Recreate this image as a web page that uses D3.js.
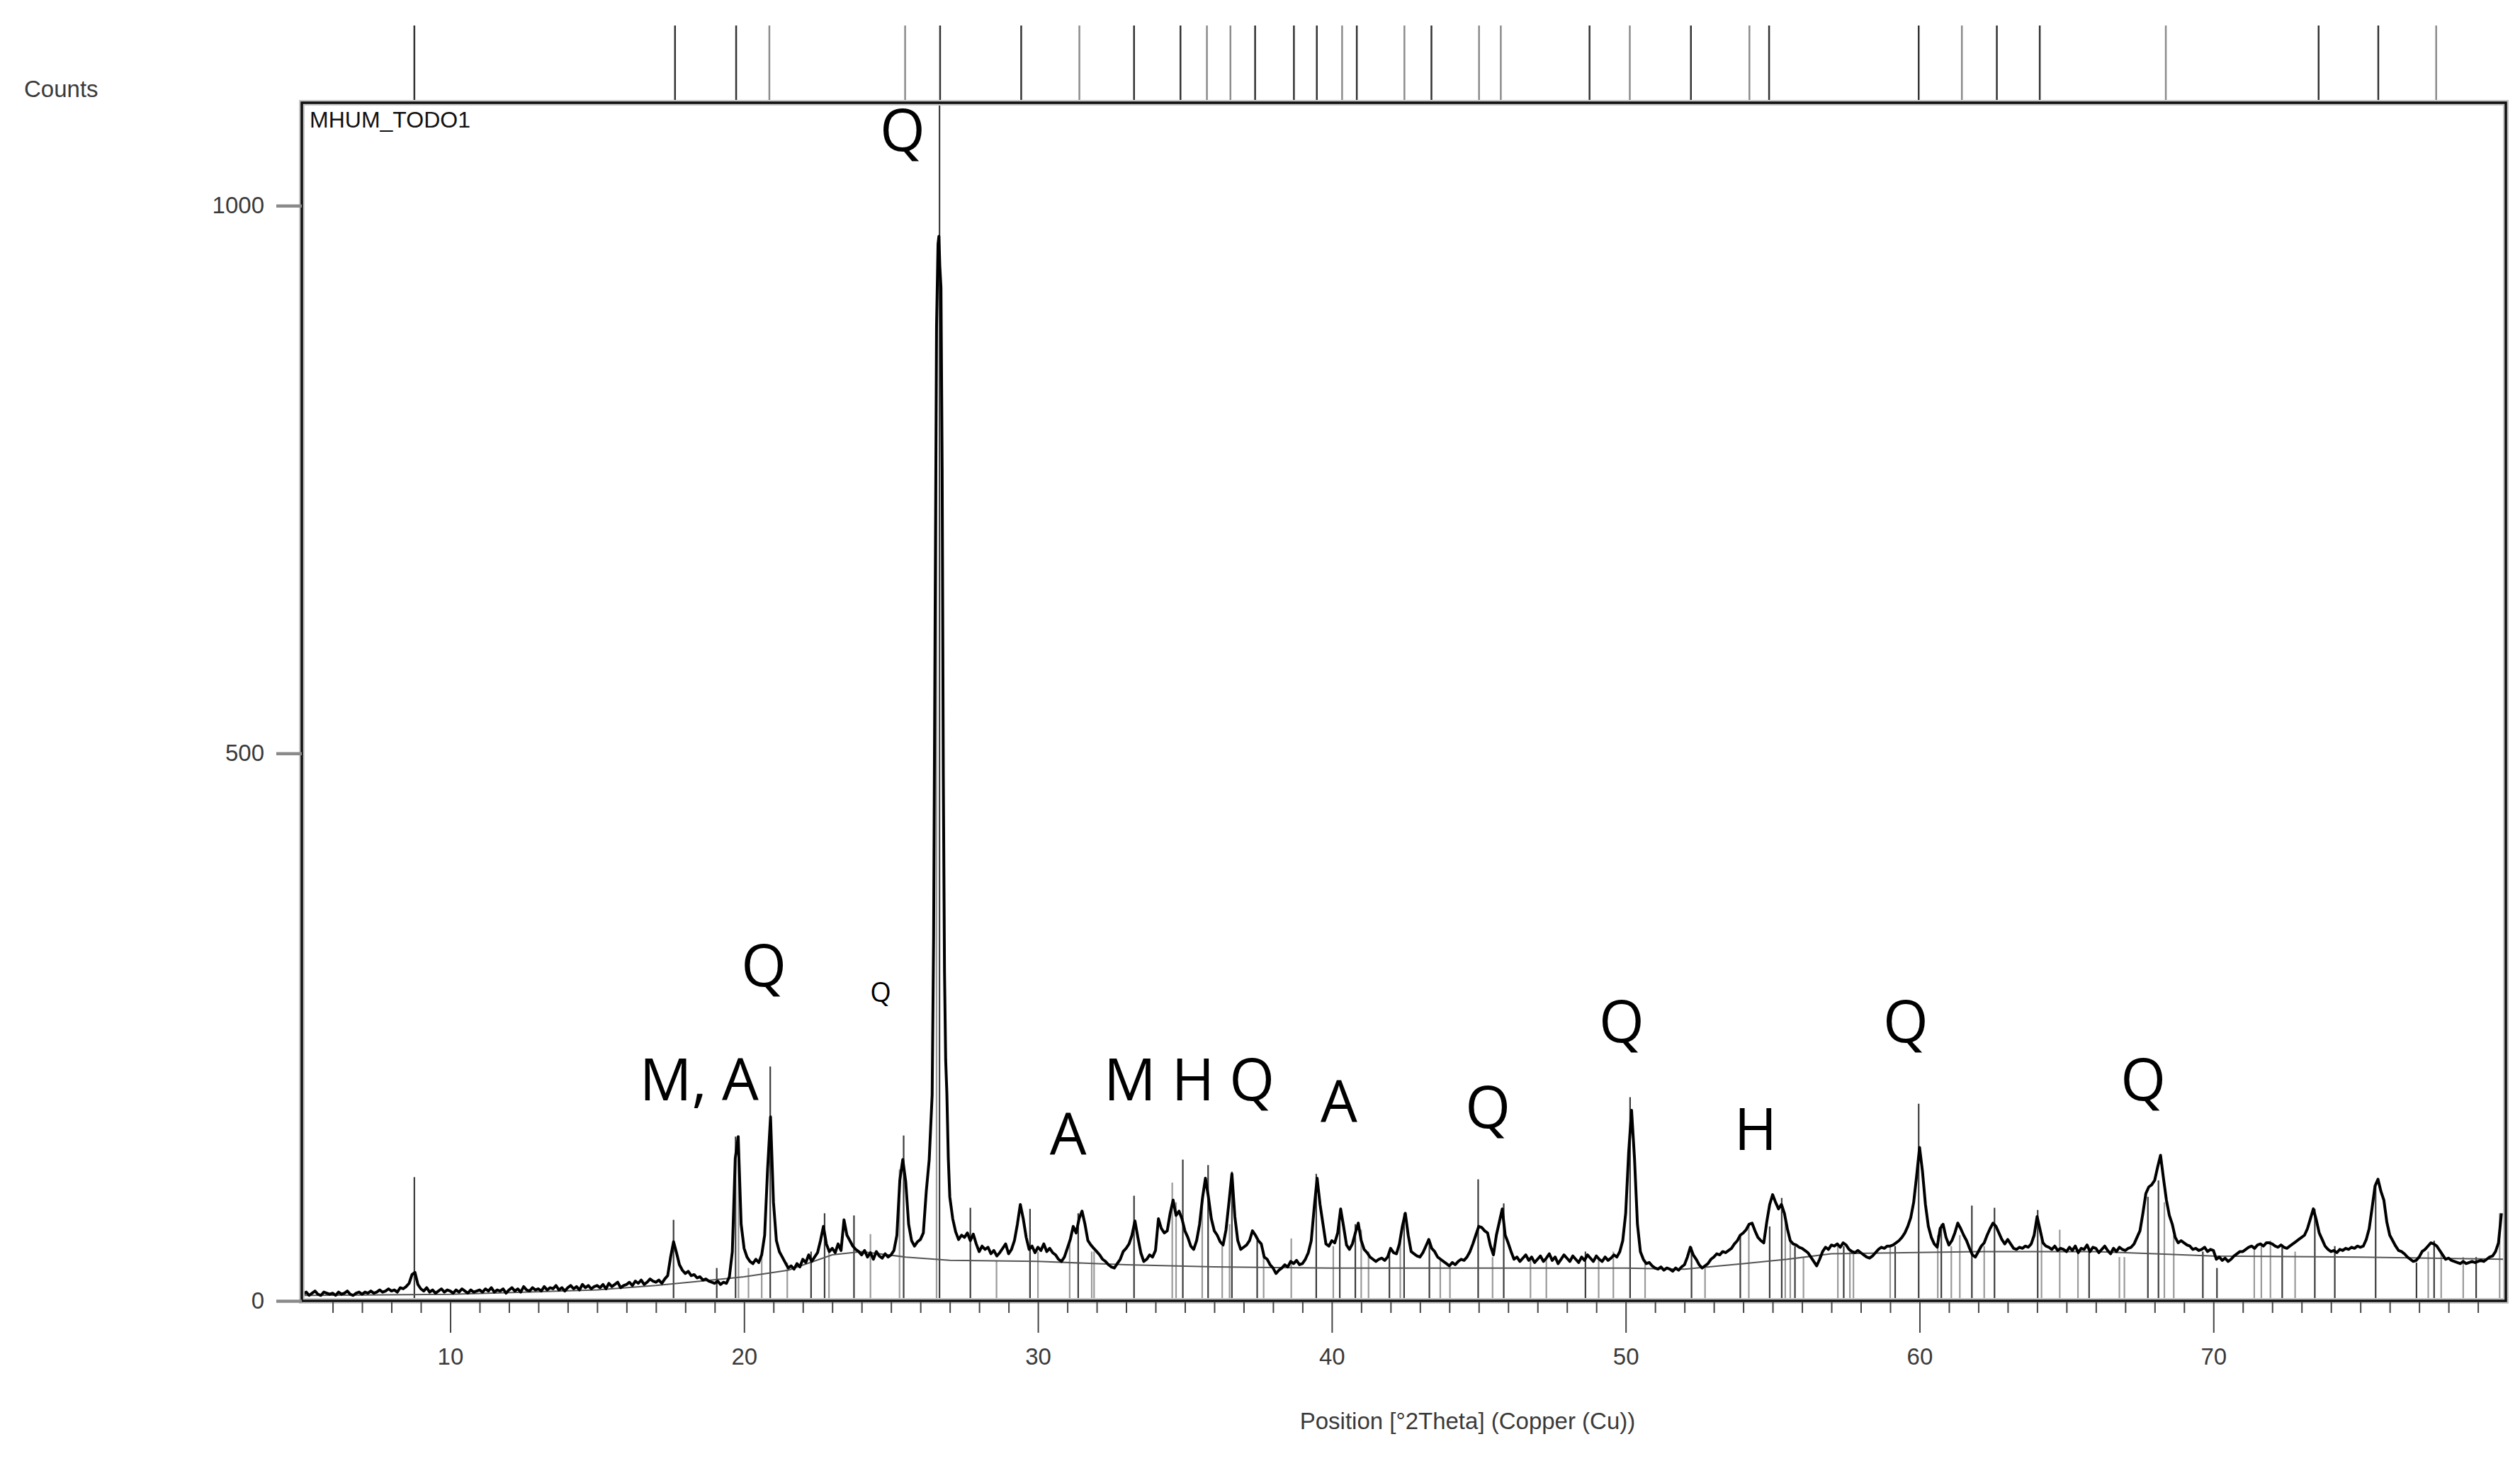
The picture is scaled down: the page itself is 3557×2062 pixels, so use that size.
<!DOCTYPE html>
<html>
<head>
<meta charset="utf-8">
<script src="https://cdnjs.cloudflare.com/ajax/libs/d3/7.8.5/d3.min.js"></script>
<style>
  body { margin: 0; background: #fff; }
  svg { display: block; }
  .axis-text { font-family: "Liberation Sans", Arial, sans-serif; font-size: 33px; fill: #3a3a3a; }
  .phase { font-family: "Open Sans", "Noto Sans", sans-serif; fill: #000; }
</style>
</head>
<body>
<div id="chart"></div>
<script>
const SVG_WIDTH = 3557;
const SVG_HEIGHT = 2062;
const PLOT = { left: 426, right: 3537, top: 145, bottom: 1836 };

// scan: 5.0 .. 79.8 deg 2theta, step 0.1
const THETA_START = 5.0;
const THETA_STEP = 0.1;
const counts = [
  6,8,5,7,9,6,5,8,7,6,
  7,5,8,6,7,9,6,5,7,8,
  6,8,7,9,7,8,10,8,9,11,
  9,10,8,12,11,13,16,24,26,15,
  11,9,12,8,10,7,9,11,8,10,
  9,7,10,8,11,9,7,10,8,9,
  10,8,11,9,12,8,10,9,11,7,
  10,12,9,11,8,13,10,9,12,10,
  11,9,13,10,12,11,14,10,12,9,
  12,14,11,13,10,15,12,14,11,13,
  14,12,15,11,16,13,15,17,12,14,
  15,17,14,18,16,19,15,17,20,18,
  17,19,16,20,23,40,54,44,33,28,
  25,27,23,24,21,22,19,20,18,17,
  16,18,15,17,16,22,45,130,150,70,
  48,40,36,34,38,35,42,60,120,168,
  90,55,45,40,35,30,32,29,34,31,
  38,35,42,36,40,44,55,68,52,45,
  48,44,52,46,74,60,55,50,47,45,
  42,46,40,44,38,45,41,39,43,40,
  42,46,60,110,129,109,70,55,50,54,
  56,62,100,129,188,620,965,925,300,190,
  95,75,63,56,60,58,62,55,61,52,
  45,50,47,49,43,46,41,44,48,52,
  43,47,55,70,88,75,58,47,50,44,
  49,46,52,45,48,44,42,38,36,40,
  48,56,68,62,75,82,70,55,51,48,
  45,42,38,36,33,31,30,34,38,45,
  48,52,60,73,58,44,36,38,42,40,
  46,75,66,62,64,80,92,78,82,75,
  64,58,50,47,55,70,94,112,95,75,
  64,60,54,51,65,90,116,77,55,47,
  49,51,55,64,60,55,52,40,38,33,
  30,25,28,30,33,31,36,34,37,33,
  34,38,44,55,85,112,88,70,52,50,
  55,53,62,84,68,51,47,52,62,71,
  55,47,44,40,38,36,38,39,37,40,
  48,44,43,52,68,80,60,45,43,41,
  40,44,50,56,48,45,40,38,36,34,
  32,35,33,36,38,37,40,45,52,60,
  68,67,64,62,50,42,60,72,84,60,
  53,45,38,40,36,39,42,37,40,35,
  38,41,36,39,43,37,40,34,38,42,
  39,36,41,38,35,40,37,42,39,36,
  41,38,36,40,37,39,42,40,45,55,
  80,135,174,130,70,45,38,34,35,32,
  30,29,31,28,30,29,27,30,28,31,
  33,40,49,42,38,33,30,32,34,38,
  40,43,42,45,44,46,48,52,55,60,
  62,65,70,71,64,58,55,53,72,88,
  97,90,84,88,80,66,55,52,51,49,
  48,46,44,40,36,32,38,45,49,47,
  51,50,52,49,53,51,47,45,44,46,
  44,42,40,39,41,44,47,49,48,50,
  50,51,53,55,58,62,68,76,90,114,
  140,118,88,68,58,52,49,66,70,58,
  51,55,62,71,66,60,55,48,42,40,
  45,50,53,60,66,71,68,62,56,52,
  56,52,48,47,49,48,50,49,52,60,
  77,65,53,50,49,47,50,46,48,47,
  45,49,46,50,44,48,47,51,45,49,
  48,44,47,50,46,43,48,45,49,47,
  46,48,49,52,58,64,80,98,104,106,
  110,122,133,112,92,78,70,58,53,55,
  53,51,50,47,48,46,47,49,45,47,
  46,38,40,37,39,36,38,41,43,45,
  45,47,49,50,48,51,52,50,53,53,
  52,50,49,51,49,48,50,52,54,56,
  58,60,66,75,84,74,62,56,50,47,
  45,46,44,47,46,48,47,49,48,50,
  49,50,56,66,85,105,111,100,92,72,
  60,55,50,46,45,43,40,38,36,37,
  40,45,47,50,53,52,50,46,42,38,
  39,37,36,35,34,36,34,35,36,35,
  36,37,36,38,40,41,45,53,80
];

// finer points over the main quartz reflection
const mainPeak = [
  [26.45, 333], [26.50, 620], [26.55, 890], [26.60, 965], [26.63, 972],
  [26.66, 945], [26.70, 925], [26.74, 760], [26.78, 480], [26.82, 300],
  [26.86, 220], [26.90, 190], [26.95, 130]
];

// fitted background
const bgTheta  = [5, 10, 15, 17, 18.5, 20, 21.5, 23, 24, 25.5, 27, 30, 33, 36, 40, 45, 50, 52, 54, 55.5, 57, 62, 66, 68, 70, 75, 79.9];
const bgCounts = [5, 6, 10, 14, 18, 22, 28, 42, 45, 40, 37, 36, 33, 31, 30, 30, 30, 29, 34, 38, 43, 45, 45, 43, 41, 40, 38];

// peak list sticks [2theta, counts]
const darkSticks = [
  [8.78,113],[17.6,74],[19.07,30],[19.71,150],[20.89,214],[22.28,45],[22.74,80],[23.74,78],
  [25.43,151],[26.65,1100],[27.7,85],[29.73,84],[31.37,80],[33.27,96],[34.93,129],[35.79,124],
  [36.6,118],[37.46,55],[39.47,116],[40.27,80],[40.8,70],[41.96,45],[42.46,80],[43.32,56],
  [44.98,111],[45.85,89],[48.63,45],[50.15,186],[52.24,49],[53.9,60],[54.9,68],[55.31,94],
  [55.76,50],[57.42,50],[59.17,50],[59.97,180],[60.74,70],[61.78,87],[62.55,85],[64.02,83],
  [65.77,45],[67.77,95],[68.13,110],[69.64,45],[70.12,30],[72.34,50],[73.45,84],[74.13,50],
  [75.52,108],[76.91,35],[77.51,55],[78.94,40]
];
const lightSticks = [
  [19.81,140],[20.15,30],[20.6,40],[21.47,35],[22.89,45],[24.3,61],[25.29,120],[26.55,900],
  [28.59,37],[30.0,45],[31.08,56],[31.83,45],[31.91,45],[34.57,108],[34.7,90],[35.59,90],
  [36.27,50],[36.52,70],[37.68,45],[38.62,57],[40.05,50],[41.0,65],[41.25,45],[42.33,55],
  [43.69,38],[44.02,32],[45.47,40],[46.76,38],[47.3,40],[49.08,40],[49.58,45],[50.66,34],
  [52.7,30],[54.19,70],[55.43,80],[55.6,55],[56.05,40],[57.22,50],[57.63,45],[57.75,45],
  [59.0,50],[60.62,60],[61.08,50],[61.37,60],[62.2,50],[64.15,60],[64.77,65],[65.39,45],
  [66.8,40],[66.97,40],[68.33,90],[68.65,60],[71.39,50],[71.63,50],[71.94,55],[72.78,45],
  [77.31,45],[77.75,45],[78.5,40],[79.74,80]
];

// reference pattern markers above the frame
const topDark  = [8.78, 17.65, 19.73, 26.67, 29.43, 33.27, 34.85, 37.39, 38.71, 39.49, 40.85, 43.39, 48.77, 52.22, 54.88, 59.97, 62.63, 64.09, 73.58, 75.61];
const topLight = [20.86, 25.48, 31.41, 35.75, 36.55, 40.35, 42.47, 45.01, 45.75, 50.14, 54.21, 61.44, 68.38, 77.58];

// phase labels: text, 2theta (centre), counts (baseline), size
const labelText  = ["Q", "Q", "Q", "M, A", "A", "M", "H", "Q", "A", "Q", "Q", "H", "Q", "Q"];
const labelTheta = [25.39, 20.67, 24.65, 18.47, 31.03, 33.13, 35.28, 37.28, 40.24, 45.31, 49.86, 54.42, 59.53, 67.61];
const labelCount = [1050, 287, 273, 183, 133, 183, 183, 183, 163, 158, 236, 138, 236, 183];
const labelSize  = [82, 82, 38, 82, 82, 82, 82, 82, 82, 82, 82, 82, 82, 82];

const X_MAJOR = [10, 20, 30, 40, 50, 60, 70];
const X_MINOR = d3.range(6, 80).filter(v => v % 10 !== 0);
const Y_TICKS = [0, 500, 1000];

const x = d3.scaleLinear().domain([4.95, 79.95]).range([PLOT.left, PLOT.right]);
const y = d3.scaleLinear().domain([0, 1094]).range([PLOT.bottom, PLOT.top]);

const svg = d3.select("#chart").append("svg")
    .attr("width", SVG_WIDTH)
    .attr("height", SVG_HEIGHT);

svg.append("defs").append("clipPath").attr("id", "plot-clip")
    .append("rect")
    .attr("x", PLOT.left).attr("y", PLOT.top)
    .attr("width", PLOT.right - PLOT.left).attr("height", PLOT.bottom - PLOT.top);

// scan points, grid + main peak detail
let scan = counts.map((c, i) => [THETA_START + i * THETA_STEP, c])
    .filter(d => d[0] < 26.42 || d[0] > 26.98);
scan = scan.concat(mainPeak).sort((a, b) => a[0] - b[0]);

const plot = svg.append("g").attr("clip-path", "url(#plot-clip)");

// bottom sticks
plot.append("g").selectAll("line")
    .data(lightSticks)
    .join("line")
    .attr("x1", d => x(d[0])).attr("x2", d => x(d[0]))
    .attr("y1", y(0)).attr("y2", d => y(d[1]))
    .attr("stroke", "#9a9a9a").attr("stroke-width", 2.2);

plot.append("g").selectAll("line")
    .data(darkSticks)
    .join("line")
    .attr("x1", d => x(d[0])).attr("x2", d => x(d[0]))
    .attr("y1", y(0)).attr("y2", d => y(d[1]))
    .attr("stroke", "#3c3c3c").attr("stroke-width", 2.2);

// background
plot.append("path")
    .datum(d3.zip(bgTheta, bgCounts))
    .attr("fill", "none")
    .attr("stroke", "#555")
    .attr("stroke-width", 2)
    .attr("d", d3.line().x(d => x(d[0])).y(d => y(d[1])));

// measured scan
plot.append("path")
    .datum(scan)
    .attr("fill", "none")
    .attr("stroke", "#000")
    .attr("stroke-width", 4)
    .attr("stroke-linejoin", "round")
    .attr("d", d3.line().x(d => x(d[0])).y(d => y(d[1])));

// top markers
svg.append("g").selectAll("line")
    .data(topLight)
    .join("line")
    .attr("x1", d => x(d)).attr("x2", d => x(d))
    .attr("y1", 36).attr("y2", PLOT.top)
    .attr("stroke", "#8c8c8c").attr("stroke-width", 2.5);

svg.append("g").selectAll("line")
    .data(topDark)
    .join("line")
    .attr("x1", d => x(d)).attr("x2", d => x(d))
    .attr("y1", 36).attr("y2", PLOT.top)
    .attr("stroke", "#333").attr("stroke-width", 2.5);

// frame
svg.append("rect")
    .attr("x", PLOT.left).attr("y", PLOT.top)
    .attr("width", PLOT.right - PLOT.left).attr("height", PLOT.bottom - PLOT.top)
    .attr("fill", "none").attr("stroke", "#c8c8c8").attr("stroke-width", 8);
svg.append("rect")
    .attr("x", PLOT.left).attr("y", PLOT.top)
    .attr("width", PLOT.right - PLOT.left).attr("height", PLOT.bottom - PLOT.top)
    .attr("fill", "none").attr("stroke", "#111").attr("stroke-width", 3.5);

// x axis
const xMajor = svg.append("g")
    .attr("transform", `translate(0,${PLOT.bottom + 2})`)
    .call(d3.axisBottom(x).tickValues(X_MAJOR).tickSize(43).tickPadding(22).tickFormat(d3.format("d")));
xMajor.select(".domain").remove();
xMajor.selectAll("line").attr("stroke", "#444").attr("stroke-width", 2);
xMajor.selectAll("text").attr("class", "axis-text").attr("fill", null);

const xMinor = svg.append("g")
    .attr("transform", `translate(0,${PLOT.bottom + 2})`)
    .call(d3.axisBottom(x).tickValues(X_MINOR).tickSize(15).tickFormat(""));
xMinor.select(".domain").remove();
xMinor.selectAll("line").attr("stroke", "#444").attr("stroke-width", 2);

// y axis
const yAxis = svg.append("g")
    .attr("transform", `translate(${PLOT.left},0)`)
    .call(d3.axisLeft(y).tickValues(Y_TICKS).tickSize(36).tickPadding(17).tickFormat(d3.format("d")));
yAxis.select(".domain").remove();
yAxis.selectAll("line").attr("stroke", "#8a8a8a").attr("stroke-width", 4.5);
yAxis.selectAll("text").attr("class", "axis-text").attr("fill", null);

// titles
svg.append("text")
    .attr("class", "axis-text")
    .attr("x", 34).attr("y", 137)
    .text("Counts");

svg.append("text")
    .attr("class", "axis-text")
    .attr("x", (PLOT.left + PLOT.right) / 2 + 90).attr("y", 2017)
    .attr("text-anchor", "middle")
    .text("Position [°2Theta] (Copper (Cu))");

svg.append("text")
    .attr("x", 437).attr("y", 180)
    .style("font-family", "'Liberation Sans', Arial, sans-serif")
    .style("font-size", "32px")
    .attr("fill", "#111")
    .text("MHUM_TODO1");

// phase labels
svg.append("g").selectAll("text")
    .data(labelText)
    .join("text")
    .attr("class", "phase")
    .attr("x", (d, i) => x(labelTheta[i]))
    .attr("y", (d, i) => y(labelCount[i]))
    .attr("text-anchor", "middle")
    .style("font-size", (d, i) => `${labelSize[i]}px`)
    .text(d => d);
</script>
</body>
</html>
